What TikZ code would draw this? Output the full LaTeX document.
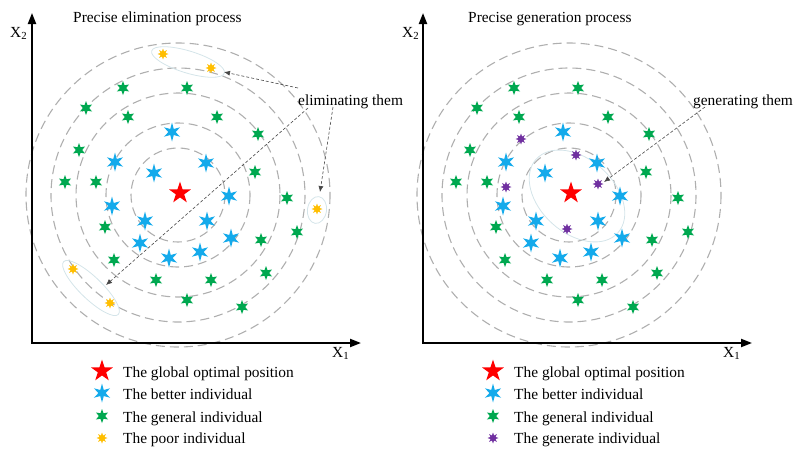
\documentclass[tikz,border=0pt]{standalone}
\usepackage{fontspec}
\setmainfont{Liberation Serif}
\usetikzlibrary{shapes.geometric,arrows.meta}
\definecolor{cred}{RGB}{255,0,0}
\definecolor{cblue}{RGB}{20,170,235}
\definecolor{cgreen}{RGB}{0,168,80}
\definecolor{cyellow}{RGB}{255,190,0}
\definecolor{cpurple}{RGB}{112,48,160}
\definecolor{ccirc}{RGB}{175,175,175}
\definecolor{cell}{RGB}{212,228,233}
\begin{document}
\begin{tikzpicture}[x=1pt,y=-1pt,
  txt/.style={font=\fontsize{15.4}{18}\selectfont, inner sep=0pt, anchor=base west},
  rstar/.style={star, star points=5, star point ratio=2.6, fill=cred, draw=none, minimum size=23pt, inner sep=0pt},
  bstar/.style={star, star points=6, star point ratio=2.7, fill=cblue, draw=none, minimum size=19pt, inner sep=0pt},
  gstar/.style={star, star points=6, star point ratio=2.2, fill=cgreen, draw=none, minimum size=14pt, inner sep=0pt},
  ystar/.style={star, star points=8, star point ratio=2.0, fill=cyellow, draw=none, minimum size=11pt, inner sep=0pt},
  pstar/.style={star, star points=8, star point ratio=2.0, fill=cpurple, draw=none, minimum size=11pt, inner sep=0pt},
  circ/.style={draw=ccirc, line width=1.1pt, dash pattern=on 9pt off 5pt},
  ell/.style={draw=cell, line width=0.8pt},
  axis/.style={line width=2pt, {Triangle[length=11pt,width=8pt]}-{Triangle[length=11pt,width=8pt]}},
  darr/.style={draw={rgb,255:red,70;green,70;blue,70}, line width=0.6pt, dash pattern=on 3pt off 2pt, -{Latex[length=6pt,width=5pt]}}
]
\useasboundingbox (0,0) rectangle (798,456);

% ---------------- Left panel ----------------
\coordinate (lc) at (178,195);
\foreach \r in {152,127,102,72,47} \draw[circ] (lc) circle [radius=\r];

\draw[ell, rotate around={-17:(188,62)}] (188,62) ellipse [x radius=38, y radius=11];
\draw[ell, rotate around={-8:(317,210)}] (317,210) ellipse [x radius=9.5, y radius=13.5];
\draw[ell, rotate around={-44:(91,288)}] (91,288) ellipse [x radius=38, y radius=11];

\coordinate (lo) at (32,343);
\coordinate (ly) at (32,13);
\coordinate (lx) at (361,343);
\draw[axis] (ly) -- (lo) -- (lx);
\node[txt] (lX2) at (10,37) {X\textsubscript{2}};
\node[txt] (lX1) at (332,357) {X\textsubscript{1}};
\node[txt] (ltitle) at (73,22) {Precise elimination process};

\node[rstar] (lr) at (180,193) {};
\foreach \x/\y [count=\i] in {172/132,115/162,206/163,154/173,229/196,112/206,145/221,207/221,231/238,140/243,169/258,200/252}
  \node[bstar] (lb\i) at (\x,\y) {};
\foreach \x/\y [count=\i] in {123/88,187/88,86/108,128/117,217/117,258/134,79/150,255/172,65/182,96/182,287/198,105/227,297/232,261/240,114/260,156/280,211/280,266/273,187/300,242/307}
  \node[gstar] (lg\i) at (\x,\y) {};
\foreach \x/\y [count=\i] in {163/54,211/68,317/209,73/269,110/303}
  \node[ystar] (ly\i) at (\x,\y) {};

\node[txt] (elim) at (298,105) {eliminating them};
\coordinate (e1s) at (298,88);
\coordinate (e1t) at (224,72);
\coordinate (e2s) at (333,107);
\coordinate (e2t) at (320,192);
\coordinate (e3s) at (308,108);
\coordinate (e3t) at (106,285);
\draw[darr] (e1s) -- (e1t);
\draw[darr] (e2s) -- (e2t);
\draw[darr] (e3s) -- (e3t);

% legend left
\node[rstar] (lgr) at (102,371) {};
\node[bstar] (lgb) at (102,393) {};
\node[gstar] (lgg) at (102,416) {};
\node[ystar] (lgy) at (102,438) {};
\node[txt] (lt1) at (123,377) {The global optimal position};
\node[txt] (lt2) at (123,399) {The better individual};
\node[txt] (lt3) at (123,422) {The general individual};
\node[txt] (lt4) at (123,443) {The poor individual};

% ---------------- Right panel ----------------
\begin{scope}[xshift=391pt]
\coordinate (rc) at (178,195);
\foreach \r in {152,127,102,72,47} \draw[circ] (rc) circle [radius=\r];
\draw[ell, rotate around={-42:(186,196)}] (186,196) ellipse [x radius=55, y radius=37];

\coordinate (ro) at (32,343);
\coordinate (ry) at (32,13);
\coordinate (rx) at (361,343);
\draw[axis] (ry) -- (ro) -- (rx);
\node[txt] (rX2) at (11,37) {X\textsubscript{2}};
\node[txt] (rX1) at (332,357) {X\textsubscript{1}};
\node[txt] (rtitle) at (77,22) {Precise generation process};

\node[rstar] (rr) at (180,193) {};
\foreach \x/\y [count=\i] in {172/132,115/162,206/163,154/173,229/196,112/206,145/221,207/221,231/238,140/243,169/258,200/252}
  \node[bstar] (rb\i) at (\x,\y) {};
\foreach \x/\y [count=\i] in {123/88,187/88,86/108,128/117,217/117,258/134,79/150,255/172,65/182,96/182,287/198,105/227,297/232,261/240,114/260,156/280,211/280,266/273,187/300,242/307}
  \node[gstar] (rg\i) at (\x,\y) {};
\foreach \x/\y [count=\i] in {130/139,185/155,115/187,207/184,176/229}
  \node[pstar] (rp\i) at (\x,\y) {};

\node[txt] (gen) at (302,105) {generating them};
\coordinate (g1s) at (314,107);
\coordinate (g1t) at (213,182);
\draw[darr] (g1s) -- (g1t);

% legend right
\node[rstar] (rgr) at (102,371) {};
\node[bstar] (rgb) at (102,393) {};
\node[gstar] (rgg) at (102,416) {};
\node[pstar] (rgp) at (102,438) {};
\node[txt] (rt1) at (123,377) {The global optimal position};
\node[txt] (rt2) at (123,399) {The better individual};
\node[txt] (rt3) at (123,422) {The general individual};
\node[txt] (rt4) at (123,443) {The generate individual};
\end{scope}
\end{tikzpicture}
\end{document}
